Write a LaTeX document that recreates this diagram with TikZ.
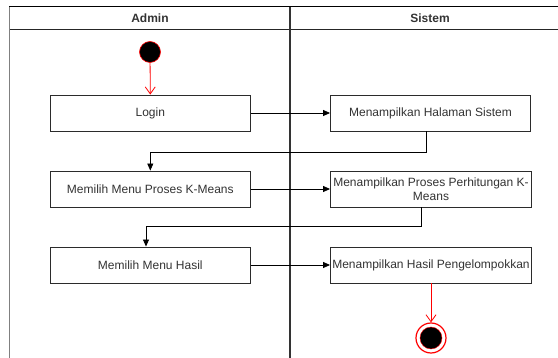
\documentclass[tikz,border=0pt]{standalone}
\usepackage{fontspec}
\setmainfont{Liberation Sans}
\usetikzlibrary{arrows.meta}
\definecolor{txt}{HTML}{333333}
\definecolor{edge}{HTML}{2B2B2B}
\definecolor{redline}{HTML}{FF0000}
\begin{document}
\begin{tikzpicture}[x=1pt,y=-1pt,
  actbox/.style={draw=edge, line width=0.9pt, fill=white, minimum width=200pt, minimum height=36pt,
    inner sep=1pt, font=\fontsize{12pt}{14pt}\selectfont, text=txt, align=center},
  flow/.style={draw=black, line width=0.8pt, -{Triangle[length=7pt,width=6pt]}},
  redflow/.style={draw=redline, line width=0.8pt, -{Straight Barb[length=7pt,width=10pt]}},
  hdr/.style={font=\fontsize{12pt}{14pt}\selectfont\bfseries, text=txt}]
\useasboundingbox (0,0) rectangle (558,358);
\clip (0,0) rectangle (558,358);
% swimlane frame
\draw[black, line width=1pt] (9,7) -- (575,7);
\draw[black!85, line width=0.8pt] (9,29.5) -- (575,29.5);
\draw[gray, line width=1.6pt] (9.5,7) -- (9.5,360);
\draw[black!80, line width=1.5pt] (290,7) -- (290,360);
\node[hdr] (hadmin) at (150,18) {Admin};
\node[hdr] (hsistem) at (430,18) {Sistem};
% nodes
\node[circle, fill=black, draw=redline, line width=0.6pt, minimum size=21pt, inner sep=0pt] (start) at (150,52) {};
\node[actbox] (login) at (150.3,113) {Login};
\node[actbox] (sis1) at (430.5,113) {Menampilkan Halaman Sistem};
\node[actbox] (menu1) at (150.3,189) {Memilih Menu Proses K-Means};
\node[actbox, minimum width=201pt] (sis2) at (431,189) {Menampilkan Proses Perhitungan K-\\Means};
\node[actbox] (menu2) at (150.3,265) {Memilih Menu Hasil};
\node[actbox, minimum width=201pt, inner sep=0pt] (sis3) at (431,265) {Menampilkan Hasil Pengelompokkan};
\node[circle, fill=white, draw=redline, line width=1.2pt, minimum size=30pt, inner sep=0pt] (endc) at (431,338) {};
\node[circle, fill=black, draw=redline, line width=0.4pt, minimum size=22pt, inner sep=0pt] (endin) at (431,338) {};
% connectors
\draw[redflow] (start) -- (login.north);
\draw[flow] (login.east) -- (sis1.west);
\draw[flow] ([xshift=-4.5pt]sis1.south) |- (150.3,152) -- (menu1.north);
\draw[flow] (menu1.east) -- (sis2.west);
\draw[flow] ([xshift=-10pt]sis2.south) |- ([xshift=-4.3pt]menu2.north |- 0,226) -- ([xshift=-4.3pt]menu2.north);
\draw[flow] (menu2.east) -- (sis3.west);
\draw[redflow] (sis3.south) -- (endc.north);
\end{tikzpicture}
\end{document}
